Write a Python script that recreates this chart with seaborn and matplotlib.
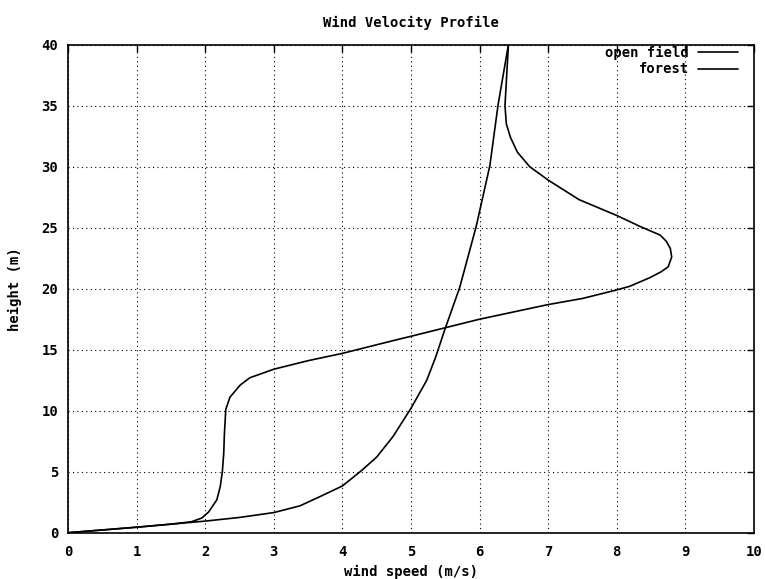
#!/usr/bin/env python

import numpy as np
import pandas as pd
import matplotlib
matplotlib.use("Agg")
import matplotlib.pyplot as plt
import seaborn as sns

### ==================== DATA ==================== ###

# open field: plain log-ish profile
open_speed = [0.0, 0.5, 1.0, 1.5, 2.0, 2.5, 3.0, 3.38, 3.67, 4.0, 4.28, 4.5,
              4.74, 5.0, 5.23, 5.36, 5.49, 5.71, 5.95, 6.05, 6.15, 6.27, 6.42]
open_height = [0.0, 0.22, 0.45, 0.7, 0.95, 1.25, 1.65, 2.2, 2.95, 3.83, 5.1, 6.2,
               7.9, 10.2, 12.5, 14.4, 16.6, 20.1, 25.1, 27.6, 30.1, 35.1, 40.0]

# forest: slow under the canopy, jet just above it
forest_speed = [0.0, 1.0, 1.5, 1.8, 1.95, 2.05, 2.17, 2.22, 2.25, 2.27, 2.28,
                2.30, 2.36, 2.51, 2.65, 3.0, 3.5, 4.0, 4.78, 5.0, 6.0, 7.0,
                7.5, 8.0, 8.19, 8.48, 8.65, 8.75, 8.80, 8.78, 8.72, 8.63, 8.34,
                8.0, 7.45, 7.0, 6.73, 6.55, 6.45, 6.39, 6.37, 6.40, 6.42]
forest_height = [0.0, 0.45, 0.7, 0.9, 1.2, 1.7, 2.7, 3.8, 5.0, 6.5, 8.1,
                 10.1, 11.1, 12.1, 12.7, 13.4, 14.1, 14.7, 15.8, 16.1, 17.5, 18.7,
                 19.2, 19.9, 20.2, 20.9, 21.4, 21.8, 22.6, 23.3, 23.9, 24.4, 25.1,
                 26.0, 27.3, 28.9, 30.0, 31.2, 32.4, 33.5, 35.0, 38.0, 40.0]

x_ticks = list(range(0, 11))
y_ticks = list(range(0, 41, 5))

### ==================== PLOT ==================== ###

sns.set_style("white")
# gnuplot-ish bold mono look, set after seaborn so it sticks
plt.rcParams["font.family"] = ["DejaVu Sans Mono"]
plt.rcParams["font.weight"] = "bold"
plt.rcParams["font.size"] = 10
plt.rcParams["text.color"] = "black"
plt.rcParams["axes.labelcolor"] = "black"
plt.rcParams["xtick.color"] = "black"
plt.rcParams["ytick.color"] = "black"

open_df = pd.DataFrame({"speed": open_speed, "height": open_height})
forest_df = pd.DataFrame({"speed": forest_speed, "height": forest_height})

fig = plt.figure(figsize=(7.65, 5.79), dpi=100)
ax = fig.add_axes([68 / 765, 1 - 532.7 / 579, 686 / 765, 488 / 579])

sns.lineplot(data=open_df, x="speed", y="height", sort=False, estimator=None,
             color="black", linewidth=1.2, label="open field", ax=ax)
sns.lineplot(data=forest_df, x="speed", y="height", sort=False, estimator=None,
             color="black", linewidth=1.2, label="forest", ax=ax)

ax.set_xlim(0, 10)
ax.set_ylim(0, 40)
ax.set_xticks(x_ticks)
ax.set_yticks(y_ticks)

# dotted grid like the old terminal output
ax.grid(True, color="black", linestyle=(0, (1, 3)), linewidth=0.8)
for side in ax.spines.values():
    side.set_color("black")
    side.set_linewidth(1.2)
ax.tick_params(direction="in", length=5, width=1, top=True, right=True,
               colors="black", labelcolor="black")
ax.tick_params(axis="x", pad=9)
ax.tick_params(axis="y", pad=7)
for lab in ax.get_xticklabels() + ax.get_yticklabels():
    lab.set_fontweight("bold")

ax.set_title("Wind Velocity Profile", fontweight="bold", fontsize=10, pad=13,
             color="black")
ax.set_xlabel("wind speed (m/s)", fontweight="bold", color="black")
ax.set_ylabel("height (m)", fontweight="bold", color="black")
ax.xaxis.set_label_coords(0.5, -0.066)
ax.yaxis.set_label_coords(-0.067, 0.5)

leg = ax.legend(loc="upper right", bbox_to_anchor=(0.9767, 0.997), frameon=False,
                markerfirst=False, handlelength=2.9, handletextpad=0.65,
                borderaxespad=0, borderpad=0, labelspacing=0.15,
                prop={"family": "DejaVu Sans Mono", "weight": "bold", "size": 10})
for t in leg.get_texts():
    t.set_color("black")

fig.savefig("out.png", dpi=100)
